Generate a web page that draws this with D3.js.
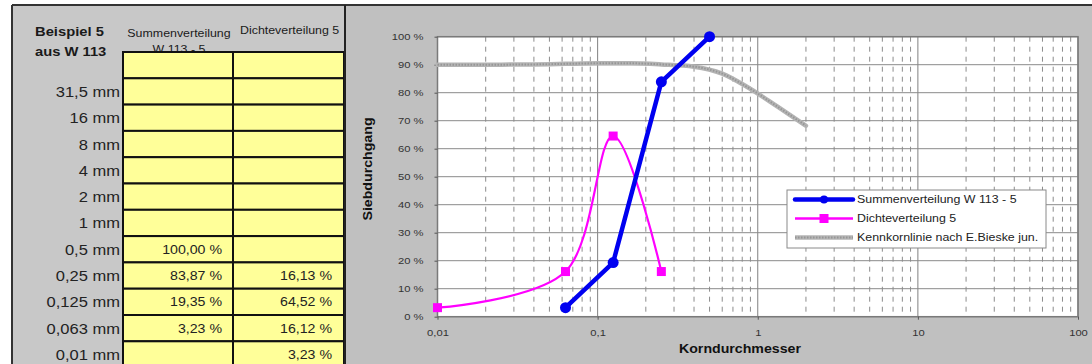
<!DOCTYPE html>
<html>
<head>
<meta charset="utf-8">
<script src="https://cdn.jsdelivr.net/npm/d3@7"></script>
<style>
  html, body { margin: 0; padding: 0; background: #ffffff; }
  svg { display: block; }
  text { font-family: "Liberation Sans", Arial, sans-serif; }
</style>
</head>
<body>
<svg id="sheet" width="1092" height="364"></svg>
<script>
// ---- data -------------------------------------------------------------
const sieveLabels = ["", "31,5 mm", "16 mm", "8 mm", "4 mm", "2 mm", "1 mm",
                     "0,5 mm", "0,25 mm", "0,125 mm", "0,063 mm", "0,01 mm"];
const sieveSizes  = [null, 31.5, 16, 8, 4, 2, 1, 0.5, 0.25, 0.125, 0.063, 0.01];
const summen      = [null, null, null, null, null, null, null, 100.00, 83.87, 19.35, 3.23, null];
const dichte      = [null, null, null, null, null, null, null, null, 16.13, 64.52, 16.12, 3.23];

// Kennkornlinie nach E. Bieske jun.
const kennSizes  = [0.01, 0.02, 0.04, 0.063, 0.1, 0.16, 0.25, 0.4, 0.6, 0.85, 1.33, 2];
const kennValues = [90.0, 90.0, 90.1, 90.3, 90.5, 90.5, 90.1, 89.3, 86.8, 82.2, 75.0, 68.2];

const yTicks = [0, 10, 20, 30, 40, 50, 60, 70, 80, 90, 100];
const xTicks = [0.01, 0.1, 1, 10, 100];
const xTickLabels = ["0,01", "0,1", "1", "10", "100"];

const seriesNames = ["Summenverteilung W 113 - 5", "Dichteverteilung 5", "Kennkornlinie nach E.Bieske jun."];

// ---- helpers ----------------------------------------------------------
const de = d3.formatLocale({decimal: ",", thousands: ".", grouping: [3], currency: ["", " €"]});
const pct = v => de.format(".2f")(v) + " %";
const STRETCH = 1.18;
function stretch(sel) {
  sel.each(function () {
    const w = this.getComputedTextLength();
    if (w > 0) {
      this.setAttribute("textLength", (w * STRETCH).toFixed(2));
      this.setAttribute("lengthAdjust", "spacingAndGlyphs");
    }
  });
}

const svg = d3.select("#sheet");

// ---- spreadsheet panel -------------------------------------------------
const left = svg.append("g");
left.append("rect").attr("x", 12).attr("y", 5).attr("width", 334).attr("height", 364).attr("fill", "#c8c8c8");
svg.append("defs").append("clipPath").attr("id", "leftClip")
  .append("rect").attr("x", 12).attr("y", 5).attr("width", 333).attr("height", 364);

const hdr = left.append("g").attr("clip-path", "url(#leftClip)");
hdr.append("text").attr("x", 35).attr("y", 36).attr("font-size", 12.5).attr("font-weight", "bold")
  .attr("fill", "#1a1a1a").text("Beispiel 5");
hdr.append("text").attr("x", 35).attr("y", 56).attr("font-size", 12.5).attr("font-weight", "bold")
  .attr("fill", "#1a1a1a").text("aus W 113");
hdr.append("text").attr("x", 179).attr("y", 37).attr("font-size", 10.5).attr("text-anchor", "middle")
  .attr("fill", "#1a1a1a").text("Summenverteilung");
hdr.append("text").attr("x", 179).attr("y", 53).attr("font-size", 10.5).attr("text-anchor", "middle")
  .attr("fill", "#1a1a1a").text("W 113 - 5");
hdr.append("text").attr("x", 240).attr("y", 34).attr("font-size", 10.5)
  .attr("fill", "#1a1a1a").text("Dichteverteilung 5");
hdr.selectAll("text").call(stretch);

const rowTop = 52, rowH = 26.3, colX = [123, 233, 344];
const rows = left.append("g");
sieveLabels.forEach((lab, i) => {
  const y0 = rowTop + i * rowH;
  for (let c = 0; c < 2; c++) {
    rows.append("rect").attr("x", colX[c]).attr("y", y0)
      .attr("width", colX[c + 1] - colX[c]).attr("height", rowH)
      .attr("fill", "#ffff99").attr("stroke", "#111").attr("stroke-width", 2);
  }
  if (lab) {
    rows.append("text").attr("class", "t").attr("x", 120).attr("y", y0 + rowH / 2 + 5.5)
      .attr("text-anchor", "end").attr("font-size", 14).attr("fill", "#222").text(lab);
  }
  if (summen[i] != null) {
    rows.append("text").attr("class", "t").attr("x", 222).attr("y", y0 + rowH / 2 + 4.5)
      .attr("text-anchor", "end").attr("font-size", 12).attr("fill", "#222").text(pct(summen[i]));
  }
  if (dichte[i] != null) {
    rows.append("text").attr("class", "t").attr("x", 332).attr("y", y0 + rowH / 2 + 4.5)
      .attr("text-anchor", "end").attr("font-size", 12).attr("fill", "#222").text(pct(dichte[i]));
  }
});
rows.selectAll("text").call(stretch);

// ---- chart panel -------------------------------------------------------
svg.append("rect").attr("x", 346).attr("y", 5).attr("width", 746).attr("height", 364).attr("fill", "#c0c0c0");

// frame lines of the sheet
svg.append("line").attr("x1", 12).attr("x2", 1092).attr("y1", 5).attr("y2", 5).attr("stroke", "#333").attr("stroke-width", 2);
svg.append("line").attr("x1", 12).attr("x2", 12).attr("y1", 5).attr("y2", 364).attr("stroke", "#333").attr("stroke-width", 2);
svg.append("line").attr("x1", 345).attr("x2", 345).attr("y1", 5).attr("y2", 364).attr("stroke", "#222").attr("stroke-width", 2);

const plot = {left: 437.5, right: 1078, top: 36.7, bottom: 316.7};
const x = d3.scaleLog().domain([0.01, 100]).range([plot.left, plot.right]);
const y = d3.scaleLinear().domain([0, 100]).range([plot.bottom, plot.top]);

const chart = svg.append("g");
chart.append("rect").attr("x", plot.left).attr("y", plot.top)
  .attr("width", plot.right - plot.left).attr("height", plot.bottom - plot.top).attr("fill", "#ffffff");

// minor vertical grid (2..9 within each decade)
const minor = [];
[0.01, 0.1, 1, 10].forEach(d => { for (let m = 2; m <= 9; m++) minor.push(d * m); });
chart.append("g").selectAll("line").data(minor).join("line")
  .attr("x1", d => x(d)).attr("x2", d => x(d)).attr("y1", plot.top).attr("y2", plot.bottom)
  .attr("stroke", "#8c8c8c").attr("stroke-width", 1).attr("stroke-dasharray", "5,5");
// major vertical grid
chart.append("g").selectAll("line").data(xTicks).join("line")
  .attr("x1", d => x(d)).attr("x2", d => x(d)).attr("y1", plot.top).attr("y2", plot.bottom)
  .attr("stroke", "#808080").attr("stroke-width", 1);
// horizontal grid
chart.append("g").selectAll("line").data(yTicks).join("line")
  .attr("x1", plot.left).attr("x2", plot.right).attr("y1", d => y(d)).attr("y2", d => y(d))
  .attr("stroke", "#8a8a8a").attr("stroke-width", 1);
chart.append("rect").attr("x", plot.left).attr("y", plot.top)
  .attr("width", plot.right - plot.left).attr("height", plot.bottom - plot.top)
  .attr("fill", "none").attr("stroke", "#7a7a7a").attr("stroke-width", 1.5);

// axes
const yAxis = chart.append("g").attr("transform", `translate(${plot.left},0)`)
  .call(d3.axisLeft(y).tickValues(yTicks).tickFormat(d => d + " %").tickSize(3).tickPadding(11));
const xAxis = chart.append("g").attr("transform", `translate(0,${plot.bottom})`)
  .call(d3.axisBottom(x).tickValues(xTicks).tickFormat((d, i) => xTickLabels[i]).tickSize(3).tickPadding(10));
[yAxis, xAxis].forEach(a => {
  a.select(".domain").remove();
  a.selectAll(".tick line").attr("stroke", "#555");
  a.selectAll("text").attr("font-size", 9.5).attr("fill", "#333")
    .attr("font-family", "\"Liberation Sans\", Arial, sans-serif").call(stretch);
});

chart.append("text").attr("transform", "translate(372,169) rotate(-90)")
  .attr("text-anchor", "middle").attr("font-size", 12).attr("font-weight", "bold").attr("fill", "#111")
  .text("Siebdurchgang").call(stretch);
chart.append("text").attr("x", 740).attr("y", 353)
  .attr("text-anchor", "middle").attr("font-size", 12).attr("font-weight", "bold").attr("fill", "#111")
  .text("Korndurchmesser").call(stretch);

// series
const kenn = kennSizes.map((s, i) => [s, kennValues[i]]);
const sum = sieveSizes.map((s, i) => [s, summen[i]]).filter(d => d[0] != null && d[1] != null);
const dic = sieveSizes.map((s, i) => [s, dichte[i]]).filter(d => d[0] != null && d[1] != null);

const kennLine = d3.line().x(d => x(d[0])).y(d => y(d[1])).curve(d3.curveMonotoneX);
chart.append("path").attr("d", kennLine(kenn)).attr("fill", "none")
  .attr("stroke", "#b4b4b4").attr("stroke-width", 4.5).attr("stroke-linecap", "round");
chart.append("path").attr("d", kennLine(kenn)).attr("fill", "none")
  .attr("stroke", "#969696").attr("stroke-width", 2).attr("stroke-dasharray", "1.5,1.5");

const dicLine = d3.line().x(d => x(d[0])).y(d => y(d[1])).curve(d3.curveCatmullRom.alpha(0));
chart.append("path").attr("d", dicLine(dic)).attr("fill", "none")
  .attr("stroke", "#ff00ff").attr("stroke-width", 2.2);
chart.append("g").selectAll("rect").data(dic).join("rect")
  .attr("x", d => x(d[0]) - 4.5).attr("y", d => y(d[1]) - 4.5).attr("width", 9).attr("height", 9)
  .attr("fill", "#ff00ff");

const sumLine = d3.line().x(d => x(d[0])).y(d => y(d[1]));
chart.append("path").attr("d", sumLine(sum)).attr("fill", "none")
  .attr("stroke", "#0000f0").attr("stroke-width", 4.5).attr("stroke-linejoin", "round");
chart.append("g").selectAll("circle").data(sum).join("circle")
  .attr("cx", d => x(d[0])).attr("cy", d => y(d[1])).attr("r", 5.5).attr("fill", "#0000f0");

// legend
const lg = chart.append("g").attr("transform", "translate(787,190)");
lg.append("rect").attr("width", 259).attr("height", 58).attr("fill", "#ffffff")
  .attr("stroke", "#8a8a8a").attr("stroke-width", 1);
const legendRows = [9.5, 28.5, 47.5];
// Summenverteilung
lg.append("line").attr("x1", 8).attr("x2", 66).attr("y1", legendRows[0]).attr("y2", legendRows[0])
  .attr("stroke", "#0000f0").attr("stroke-width", 4.5).attr("stroke-linecap", "round");
lg.append("circle").attr("cx", 37).attr("cy", legendRows[0]).attr("r", 4).attr("fill", "#0000f0");
// Dichteverteilung
lg.append("line").attr("x1", 8).attr("x2", 66).attr("y1", legendRows[1]).attr("y2", legendRows[1])
  .attr("stroke", "#ff00ff").attr("stroke-width", 2.5);
lg.append("rect").attr("x", 32.5).attr("y", legendRows[1] - 4.5).attr("width", 9).attr("height", 9).attr("fill", "#ff00ff");
// Kennkornlinie
lg.append("line").attr("x1", 8).attr("x2", 66).attr("y1", legendRows[2]).attr("y2", legendRows[2])
  .attr("stroke", "#b4b4b4").attr("stroke-width", 4.5);
lg.append("line").attr("x1", 8).attr("x2", 66).attr("y1", legendRows[2]).attr("y2", legendRows[2])
  .attr("stroke", "#969696").attr("stroke-width", 2).attr("stroke-dasharray", "1.5,1.5");
lg.selectAll("text.lt").data(seriesNames).join("text").attr("class", "lt")
  .attr("x", 70).attr("y", (d, i) => legendRows[i] + 3.8)
  .attr("font-size", 10.5).attr("fill", "#222").text(d => d).call(stretch);
</script>
</body>
</html>
